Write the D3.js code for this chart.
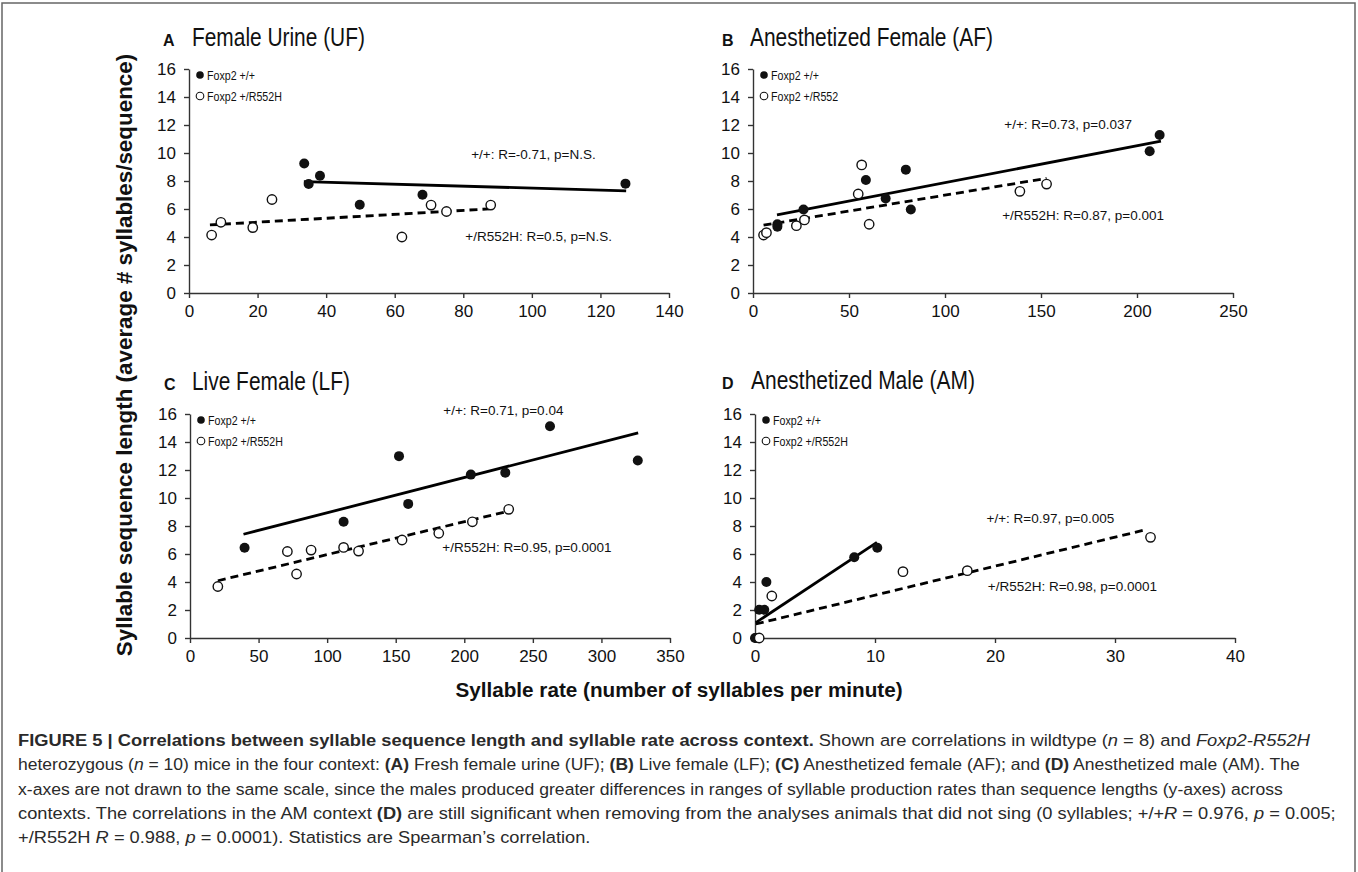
<!DOCTYPE html>
<html><head><meta charset="utf-8">
<script src="https://cdn.jsdelivr.net/npm/d3@7"></script>
<style>
body{margin:0;background:#fff}
svg{display:block}
text{font-family:"Liberation Sans",Arial,Helvetica,sans-serif}
</style>
</head><body>
<svg id="c" width="1358" height="872"></svg>
<script>
// ---------- DATA ----------
const yTicks = [0,2,4,6,8,10,12,14,16];

// A  Female Urine (UF)
const ufXTicks = [0,20,40,60,80,100,120,140];
const ufWT  = [[33.6,9.25],[34.9,7.78],[38.2,8.38],[49.8,6.30],[68.1,7.02],[127.3,7.81]];
const ufHet = [[6.6,4.14],[9.3,5.05],[18.6,4.67],[24.2,6.68],[62.1,4.0],[70.6,6.28],[75.1,5.82],[88.0,6.28]];
const ufWTFit  = [[33.5,7.95],[127.5,7.3]];
const ufHetFit = [[6.1,4.86],[87.6,6.01]];
const ufNotes = [{t:"+/+: R=-0.71, p=N.S.", x:82.3, y:9.94},{t:"+/R552H: R=0.5, p=N.S.", x:80.6, y:4.07}];

// B  Anesthetized Female (AF)
const afXTicks = [0,50,100,150,200,250];
const afWT  = [[12.7,4.91],[12.7,4.74],[26.3,5.96],[58.8,8.07],[69.1,6.75],[79.6,8.81],[82.2,5.96],[206.6,10.13],[211.8,11.28]];
const afHet = [[5.5,4.14],[7.0,4.31],[22.6,4.81],[26.8,5.22],[54.8,7.07],[56.6,9.15],[60.5,4.91],[139.0,7.26],[152.9,7.78]];
const afWTFit  = [[12.5,5.58],[212.5,10.85]];
const afHetFit = [[5.5,4.84],[152.9,8.19]];
const afNotes = [{t:"+/+: R=0.73, p=0.037", x:130.9, y:12.05},{t:"+/R552H: R=0.87, p=0.001", x:129.8, y:5.56}];

// C  Live Female (LF)
const lfXTicks = [0,50,100,150,200,250,300,350];
const lfWT  = [[39.8,6.45],[112,8.3],[152.4,12.99],[159.1,9.58],[204.8,11.67],[229.9,11.81],[262.5,15.13],[326.5,12.68]];
const lfHet = [[20.3,3.68],[71,6.18],[77.7,4.57],[88.3,6.28],[112,6.47],[122.9,6.21],[154.6,7.0],[181.4,7.48],[205.9,8.3],[232.4,9.19]];
const lfWTFit  = [[39,7.41],[326.8,14.65]];
const lfHetFit = [[20.3,4.09],[231.8,9.05]];
const lfNotes = [{t:"+/+: R=0.71, p=0.04", x:184.7, y:16.24},{t:"+/R552H: R=0.95, p=0.0001", x:184, y:6.47}];

// D  Anesthetized Male (AM)
const amXTicks = [0,10,20,30,40];
const amWT  = [[0,0],[0.1,0],[0.35,2.02],[0.77,2.02],[0.95,4.0],[8.27,5.77],[10.19,6.45]];
const amHet = [[0.35,0],[1.4,3.0],[12.33,4.74],[17.69,4.81],[32.96,7.19]];
const amWTFit  = [[0.07,1.1],[10.16,6.83]];
const amHetFit = [[0.07,1.0],[32.64,7.75]];
const amNotes = [{t:"+/+: R=0.97, p=0.005", x:19.3, y:8.52},{t:"+/R552H: R=0.98, p=0.0001", x:19.4, y:3.66}];

const yLabel = "Syllable sequence length (average # syllables/sequence)";
const xLabel = "Syllable rate (number of syllables per minute)";

const captionLines = [
  [["b","FIGURE 5 | Correlations between syllable sequence length and syllable rate across context."],["n"," Shown are correlations in wildtype ("],["i","n"],["n"," = 8) and "],["i","Foxp2-R552H"]],
  [["n","heterozygous ("],["i","n"],["n"," = 10) mice in the four context: "],["b","(A)"],["n"," Fresh female urine (UF); "],["b","(B)"],["n"," Live female (LF); "],["b","(C)"],["n"," Anesthetized female (AF); and "],["b","(D)"],["n"," Anesthetized male (AM). The"]],
  [["n","x-axes are not drawn to the same scale, since the males produced greater differences in ranges of syllable production rates than sequence lengths (y-axes) across"]],
  [["n","contexts. The correlations in the AM context "],["b","(D)"],["n"," are still significant when removing from the analyses animals that did not sing (0 syllables; +/+"],["i","R"],["n"," = 0.976, "],["i","p"],["n"," = 0.005;"]],
  [["n","+/R552H "],["i","R"],["n"," = 0.988, "],["i","p"],["n"," = 0.0001). Statistics are Spearman\u2019s correlation."]]
];

// ---------- LAYOUT ----------
const panels = [
  {letter:"A", title:"Female Urine (UF)", wt:ufWT, het:ufHet, wtFit:ufWTFit, hetFit:ufHetFit, xTicks:ufXTicks, notes:ufNotes,
   legend:["Foxp2 +/+","Foxp2 +/R552H"], box:{x0:189,x1:669,y0:69,y1:293}, lx:163, tx:192, ty:46, tw:173},
  {letter:"B", title:"Anesthetized Female (AF)", wt:afWT, het:afHet, wtFit:afWTFit, hetFit:afHetFit, xTicks:afXTicks, notes:afNotes,
   legend:["Foxp2 +/+","Foxp2 +/R552"], box:{x0:753,x1:1233,y0:69,y1:293}, lx:722, tx:750, ty:46, tw:243},
  {letter:"C", title:"Live Female (LF)", wt:lfWT, het:lfHet, wtFit:lfWTFit, hetFit:lfHetFit, xTicks:lfXTicks, notes:lfNotes,
   legend:["Foxp2 +/+","Foxp2 +/R552H"], box:{x0:190,x1:670,y0:414,y1:638}, lx:164, tx:192, ty:390, tw:158},
  {letter:"D", title:"Anesthetized Male (AM)", wt:amWT, het:amHet, wtFit:amWTFit, hetFit:amHetFit, xTicks:amXTicks, notes:amNotes,
   legend:["Foxp2 +/+","Foxp2 +/R552H"], box:{x0:755,x1:1235,y0:414,y1:638}, lx:722, tx:751, ty:389, tw:224}
];

const svg = d3.select("#c");
const INK = "#111";

function squish(sel, target){
  const w = sel.node().getBBox().width;
  return w > 0 ? target / w : 1;
}

// frame
svg.append("path").attr("d","M2,872 V3 H1355 V872").attr("fill","none").attr("stroke","#666").attr("stroke-width",1.5);

panels.forEach(p => {
  const b = p.box;
  const xMax = p.xTicks[p.xTicks.length-1];
  const x = d3.scaleLinear().domain([0,xMax]).range([b.x0,b.x1]);
  const y = d3.scaleLinear().domain([0,16]).range([b.y1,b.y0]);
  const g = svg.append("g");

  // title
  g.append("text").attr("x",p.lx).attr("y",p.ty).attr("font-size",16).attr("font-weight","bold").attr("fill",INK).text(p.letter);
  const tt = g.append("text").attr("font-size",25.5).attr("fill",INK).text(p.title);
  const s = squish(tt, p.tw);
  tt.attr("transform",`translate(${p.tx},${p.ty}) scale(${s},1)`);

  // axes
  const ax = g.append("g").attr("transform",`translate(0,${b.y1})`)
    .call(d3.axisBottom(x).tickValues(p.xTicks).tickSize(5).tickSizeOuter(0).tickPadding(7));
  const ay = g.append("g").attr("transform",`translate(${b.x0},0)`)
    .call(d3.axisLeft(y).tickValues(yTicks).tickSize(5).tickSizeOuter(0).tickPadding(8));
  [ax,ay].forEach(a=>{
    a.selectAll("path,line").attr("stroke","#333").attr("stroke-width",1.4);
    a.selectAll("text").attr("font-size",17).attr("fill",INK).attr("font-family",'"Liberation Sans",Arial,sans-serif');
  });

  // fit lines
  const line = d3.line().x(d=>x(d[0])).y(d=>y(d[1]));
  g.append("path").attr("d",line(p.wtFit)).attr("stroke","#000").attr("stroke-width",2.8).attr("fill","none");
  g.append("path").attr("d",line(p.hetFit)).attr("stroke","#000").attr("stroke-width",2.8).attr("stroke-dasharray","8,5").attr("fill","none");

  // points
  g.selectAll(".wt").data(p.wt).join("circle").attr("cx",d=>x(d[0])).attr("cy",d=>y(d[1])).attr("r",5).attr("fill",INK);
  g.selectAll(".het").data(p.het).join("circle").attr("cx",d=>x(d[0])).attr("cy",d=>y(d[1])).attr("r",4.7)
    .attr("fill","#fff").attr("stroke",INK).attr("stroke-width",1.4);

  // annotations
  p.notes.forEach(n=>{
    g.append("text").attr("x",x(n.x)).attr("y",y(n.y)).attr("dy","0.35em").attr("font-size",13.5).attr("fill",INK).text(n.t);
  });

  // legend
  const lgx = b.x0 + 11;
  [[b.y0+6, true],[b.y0+27,false]].forEach((r,i)=>{
    g.append("circle").attr("cx",lgx).attr("cy",r[0]).attr("r",3.8)
      .attr("fill",r[1]?INK:"#fff").attr("stroke",INK).attr("stroke-width",r[1]?0:1.1);
    const lt = g.append("text").attr("font-size",13).attr("fill",INK).attr("dy","0.35em").text(p.legend[i]);
    lt.attr("transform",`translate(${lgx+7},${r[0]}) scale(0.82,1)`);
  });
});

// shared axis labels
svg.append("text").attr("transform","translate(132,355) rotate(-90)").attr("text-anchor","middle")
  .attr("font-size",22.4).attr("font-weight","bold").attr("fill",INK).text(yLabel);
svg.append("text").attr("x",679).attr("y",697).attr("text-anchor","middle")
  .attr("font-size",20.7).attr("font-weight","bold").attr("fill",INK).text(xLabel);

// caption
const capY = [746,770,795,819,843];
const capW = [1293,1282,1266,1319,null];
let lastScale = 1;
captionLines.forEach((ln,i)=>{
  const t = svg.append("text").attr("font-size",16.5).attr("fill","#2a2a2a");
  ln.forEach(seg=>{
    const ts = t.append("tspan").text(seg[1]);
    if(seg[0]==="b") ts.attr("font-weight","bold");
    if(seg[0]==="i") ts.attr("font-style","italic");
  });
  const sc = capW[i] ? squish(t, capW[i]) : lastScale;
  lastScale = sc;
  t.attr("transform",`translate(18,${capY[i]}) scale(${sc},1)`);
});
</script>
</body></html>
